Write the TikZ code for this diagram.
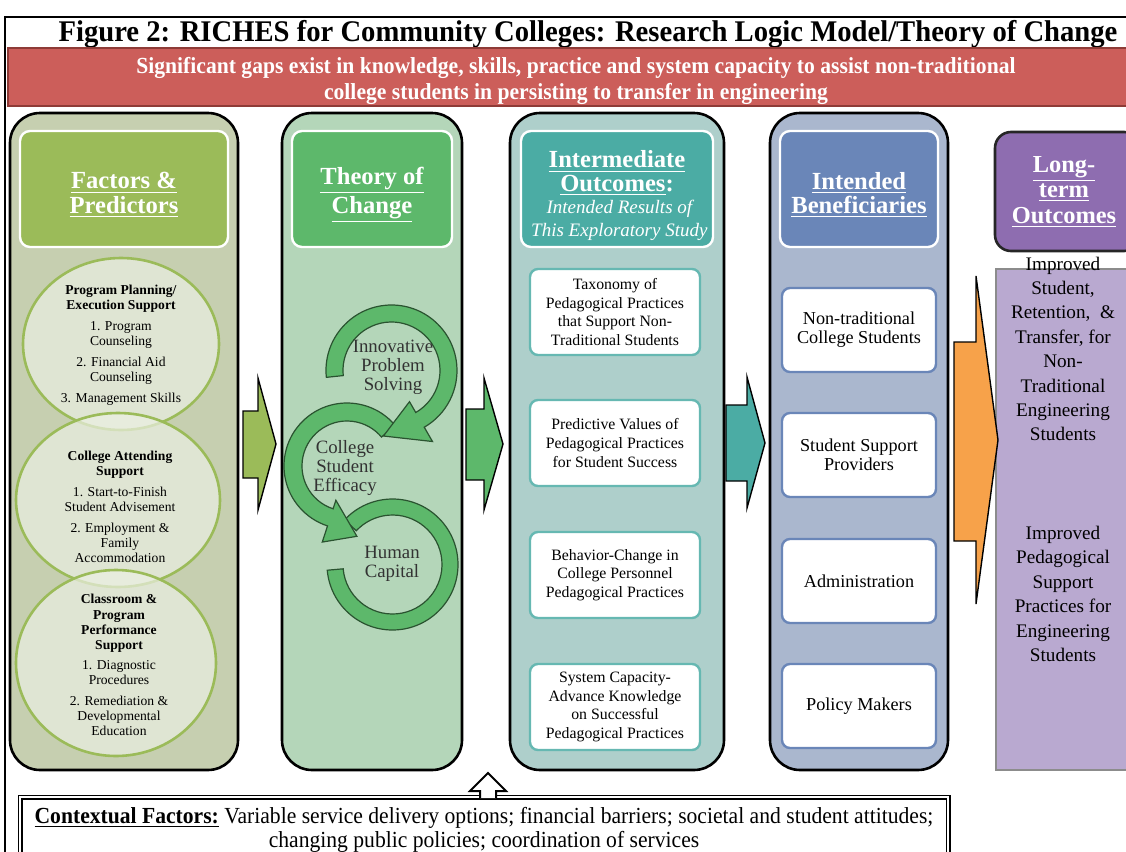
\documentclass[tikz,border=0pt]{standalone}
\usepackage{fontspec}
\setmainfont{Liberation Serif}
\newfontfamily\titleserif[FakeStretch=0.955]{Liberation Serif}
\newfontfamily\narrowserif[FakeStretch=0.94]{Liberation Serif}
\usepackage{tikz}
\usetikzlibrary{positioning,calc}
\definecolor{colorgap}{HTML}{CC5E5A}
\definecolor{colorgapline}{HTML}{8E3B37}
\definecolor{colorfp}{HTML}{9BBB59}
\definecolor{colorfpbg}{HTML}{C6CFB0}
\definecolor{colorring}{HTML}{EBEFE2}
\definecolor{colortc}{HTML}{5DB86B}
\definecolor{colortcbg}{HTML}{B4D6B9}
\definecolor{colorio}{HTML}{4BACA4}
\definecolor{coloriobg}{HTML}{AECFCB}
\definecolor{colorbi}{HTML}{6A86B8}
\definecolor{colorbibg}{HTML}{AAB7CE}
\definecolor{colorlt}{HTML}{8E6DB0}
\definecolor{colorltbg}{HTML}{B9A9D0}
\definecolor{colororange}{HTML}{F7A24A}
\newcommand\txtsize[2]{\fontsize{#1}{#2}\selectfont}
\tikzset{
  titletext/.style={font=\titleserif\bfseries\txtsize{15}{16}, inner sep=0pt},
  gapband/.style={fill=colorgap, draw=colorgapline, line width=0.8pt},
  gaptext/.style={font=\narrowserif\bfseries\txtsize{11.5}{12.8}, text=white, align=center, inner sep=0pt},
  column/.style={draw=black, line width=1.3pt, rounded corners=15pt},
  headbox/.style={draw=white, line width=1.2pt, rounded corners=5pt, minimum height=58pt, inner sep=0pt},
  headtext/.style={text=white, align=center, inner sep=0pt, font=\bfseries\txtsize{12.3}{12.2}},
  ring/.style={fill=colorring, fill opacity=0.7, draw=colorfp, line width=1.3pt},
  ringtext/.style={align=center, inner sep=0pt, font=\txtsize{6.8}{7.6}},
  loopband/.style={fill=colortc, draw=colortc!45!black, line width=0.6pt},
  looptext/.style={align=center, inner sep=0pt, text=black!80, font=\txtsize{9.4}{9.6}},
  itembox/.style={fill=white, line width=1.2pt, rounded corners=4pt, align=center, inner sep=0pt},
  itemio/.style={itembox, draw=colorio!85!white, minimum width=85pt, minimum height=43pt, font=\txtsize{7.9}{9.3}},
  itembi/.style={itembox, draw=colorbi, minimum width=77pt, minimum height=42pt, font=\txtsize{9.1}{9.5}},
  blockarrow/.style={draw=black, line width=0.7pt},
  outcometext/.style={align=center, inner sep=0pt, font=\txtsize{9.6}{12.2}},
  contextbox/.style={draw=black, double=white, double distance=0.7pt, line width=0.9pt, fill=white,
    align=center, inner sep=0pt, minimum width=464pt, minimum height=33pt, font=\narrowserif\txtsize{11.5}{12.3}}
}

\begin{document}
\begin{tikzpicture}[x=0.5pt, y=-0.5pt]
\useasboundingbox (0,0) rectangle (1126,852);
\draw[line width=0.7pt] (5,852) -- (5,17) -- (1126,17);

% title and problem statement
\node[titletext] (title) at (588,34) {Figure 2: RICHES for Community Colleges: Research Logic Model/Theory of Change};
\draw[gapband] (8,48) rectangle (1132,106);
\node[gaptext] (gap) at (576,81) {Significant gaps exist in knowledge, skills, practice and system capacity to assist non-traditional\\college students in persisting to transfer in engineering};

% columns
\draw[column, fill=colorfpbg] (10,113) rectangle (238,770);
\draw[column, fill=colortcbg] (282,113) rectangle (462,770);
\draw[column, fill=coloriobg] (510,113) rectangle (724,770);
\draw[column, fill=colorbibg] (770,113) rectangle (948,770);

\node[headbox, fill=colorfp, minimum width=104pt] (fphead) at (124,189) {};
\node[headtext] (fptitle) at ([yshift=-3pt]fphead.center) {\underline{Factors \&}\\\underline{Predictors}};
\node[headbox, fill=colortc, minimum width=80pt] (tchead) at (372,189) {};
\node[headtext] (tctitle) at ([yshift=-3pt]tchead.center) {\underline{Theory of}\\\underline{Change}};
\node[headbox, fill=colorio, minimum width=96pt] (iohead) at (617,189) {};
\node[headtext, font=\bfseries\txtsize{12.3}{11.6}] (iotitle) at ([yshift=-3.5pt]iohead.center)
  {\underline{Intermediate}\\\underline{Outcomes}:\\[-0.3pt]{\normalfont\itshape\txtsize{9.5}{11} Intended Results of}\\{\normalfont\itshape\txtsize{9.5}{11} This Exploratory Study}};
\node[headbox, fill=colorbi, minimum width=79pt] (bihead) at (859,189) {};
\node[headtext] (bititle) at ([yshift=-3pt]bihead.center) {\underline{Intended}\\\underline{Beneficiaries}};

% factors and predictors
\draw[ring] (121,344) ellipse [x radius=98, y radius=86];
\draw[ring] (118,500) ellipse [x radius=102, y radius=87];
\draw[ring] (116,663) ellipse [x radius=100, y radius=93];
\node[ringtext] (plan) at (121,345) {\textbf{Program Planning/}\\\textbf{Execution Support}\\[2.8pt]1. Program\\Counseling\\[2.8pt]2. Financial Aid\\Counseling\\[2.8pt]3. Management Skills};
\node[ringtext] (attend) at (120,507) {\textbf{College Attending}\\\textbf{Support}\\[2.8pt]1. Start-to-Finish\\Student Advisement\\[2.8pt]2. Employment \&\\Family\\Accommodation};
\node[ringtext] (classroom) at (119,665) {\textbf{Classroom \&}\\\textbf{Program}\\\textbf{Performance}\\\textbf{Support}\\[2.2pt]1. Diagnostic\\Procedures\\[2.8pt]2. Remediation \&\\Developmental\\Education};

% theory of change loops
\begin{scope}[shift={(392.5,564.5)}]
\draw[loopband] (-137:65.5) arc[start angle=-137, end angle=175, radius=65.5] -- (175:49.5) arc[start angle=175, end angle=-137, radius=49.5] -- cycle;
\end{scope}
\begin{scope}[shift={(347,466)}]
\draw[loopband] (-40:63) arc[start angle=-40, end angle=-252, radius=63] -- (-252:80) -- (-278:71) -- (-252:36) -- (-252:45) arc[start angle=-252, end angle=-40, radius=45] -- cycle;
\end{scope}
\begin{scope}[shift={(391.5,370.5)}]
\draw[loopband] (174:65.5) arc[start angle=174, end angle=420, radius=65.5] -- (420:82) -- (457:66) -- (420:36) -- (420:48.5) arc[start angle=420, end angle=174, radius=48.5] -- cycle;
\end{scope}
\node[looptext] (solving) at (393,367) {Innovative\\Problem\\Solving};
\node[looptext] (efficacy) at (345,468) {College\\Student\\Efficacy};
\node[looptext] (capital) at (392,564) {Human\\Capital};

% intermediate outcomes
\node[itemio] (taxonomy) at (615,312) {Taxonomy of\\Pedagogical Practices\\that Support Non-\\Traditional Students};
\node[itemio] (predictive) at (615,443) {Predictive Values of\\Pedagogical Practices\\for Student Success};
\node[itemio] (behavior) at (615,575) {Behavior-Change in\\College Personnel\\Pedagogical Practices};
\node[itemio] (capacity) at (615,707) {System Capacity-\\Advance Knowledge\\on Successful\\Pedagogical Practices};

% beneficiaries
\node[itembi] (students) at (859,330) {Non-traditional\\College Students};
\node[itembi] (providers) at (859,455) {Student Support\\Providers};
\node[itembi] (admin) at (859,581) {Administration};
\node[itembi] (policy) at (859,706) {Policy Makers};

% long-term outcomes
\draw[fill=colorltbg, draw=black!45, line width=0.6pt] (996,269) rectangle (1140,770);
\draw[fill=colorlt, draw=black!85, line width=1.3pt, rounded corners=8pt] (995,132) rectangle (1140,251);
\node[headtext, font=\bfseries\txtsize{12.2}{12.6}] (lttitle) at (1064,192) {\underline{Long-}\\\underline{term}\\\underline{Outcomes}};
\node[outcometext] (retention) at (1063,349) {Improved\\Student,\\Retention,~~\&\\Transfer, for\\Non-\\Traditional\\Engineering\\Students};
\node[outcometext] (support) at (1063,594) {Improved\\Pedagogical\\Support\\Practices for\\Engineering\\Students};

% arrows between columns
\draw[blockarrow, fill=colorfp] (243,411) -- (258,411) -- (258,378) -- (276,444) -- (258,510) -- (258,478) -- (243,478) -- cycle;
\draw[blockarrow, fill=colortc] (466,409) -- (484,409) -- (484,378) -- (503,444) -- (484,510) -- (484,480) -- (466,480) -- cycle;
\draw[blockarrow, fill=colorio] (726,405) -- (747,405) -- (747,377) -- (765,443) -- (747,508) -- (747,481) -- (726,481) -- cycle;
\draw[blockarrow, fill=colororange] (954,342) -- (976,342) -- (976,276) -- (998,440) -- (976,604) -- (976,541) -- (954,541) -- cycle;

% contextual factors
\node[contextbox] (context) at (484,830) {\textbf{\underline{Contextual Factors:}} Variable service delivery options; financial barriers; societal and student attitudes;\\changing public policies; coordination of services};
\draw[fill=white, draw=black, line width=1pt] (480,798) -- (480,791) -- (470,791) -- (488,773) -- (506,791) -- (496,791) -- (496,798);
\end{tikzpicture}
\end{document}
